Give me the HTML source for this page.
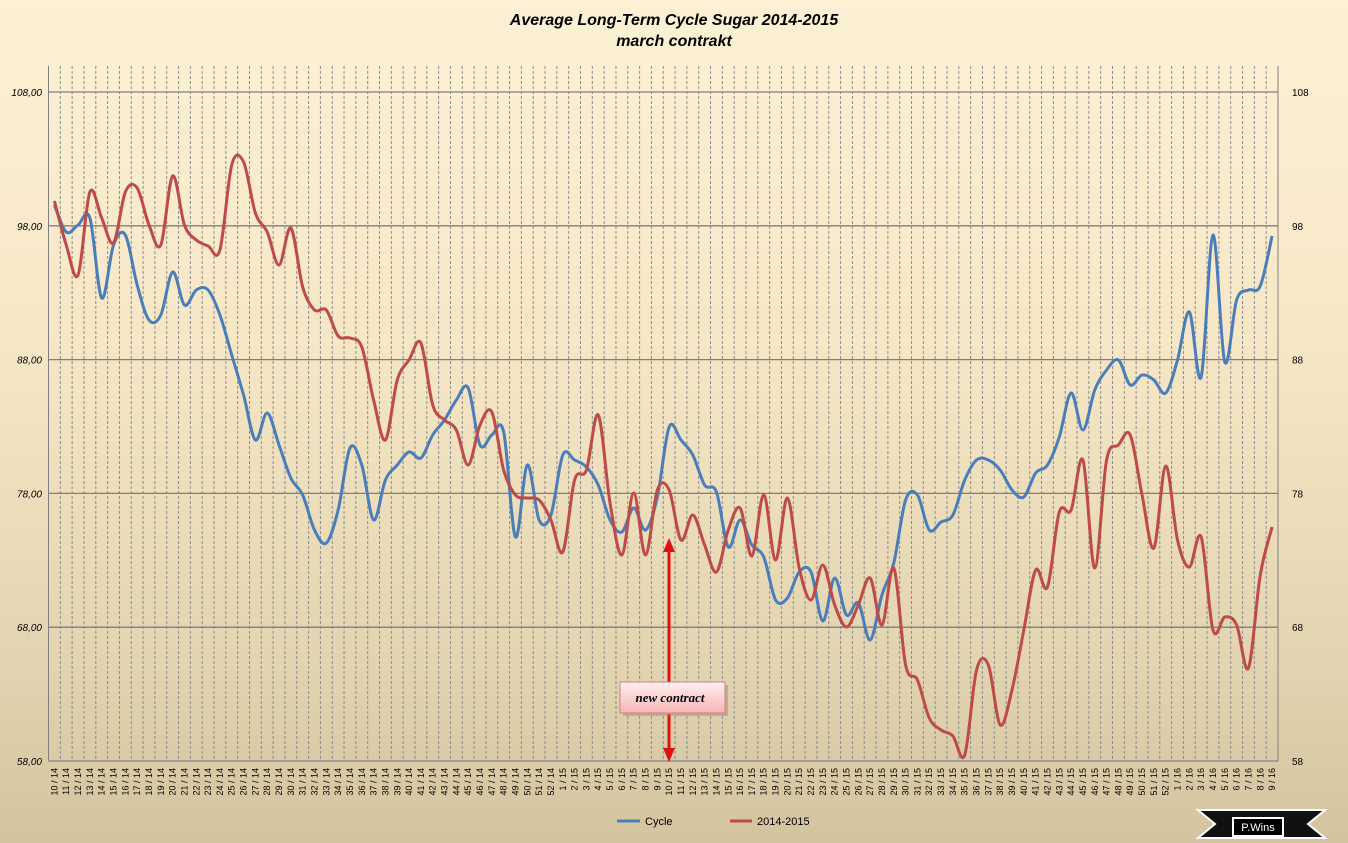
<!DOCTYPE html>
<html><head><meta charset="utf-8"><style>
html,body{margin:0;padding:0;}
body{width:1348px;height:843px;overflow:hidden;background:linear-gradient(#fdf1d5 0%,#f6e7c6 40%,#e2d3b0 80%,#d3c39f 100%);font-family:"Liberation Sans",sans-serif;}
</style></head><body>
<svg id="s" width="1348" height="843" xmlns="http://www.w3.org/2000/svg" style="position:absolute;left:0;top:0">
<text x="674" y="25" text-anchor="middle" font-family="Liberation Sans" font-size="16" font-weight="bold" font-style="italic">Average Long-Term Cycle Sugar 2014-2015</text>
<text x="674" y="46" text-anchor="middle" font-family="Liberation Sans" font-size="16" font-weight="bold" font-style="italic">march contrakt</text>
<g id="grid"></g>
<g id="lines"></g>
<g id="ann">
<line x1="669" y1="548" x2="669" y2="682" stroke="#e01010" stroke-width="3"/>
<polygon points="669,538 663,552 675,552" fill="#e01010"/>
<line x1="669" y1="714" x2="669" y2="752" stroke="#e01010" stroke-width="3"/>
<polygon points="669,762 663,748 675,748" fill="#e01010"/>
<defs><linearGradient id="bx" x1="0" y1="0" x2="0" y2="1"><stop offset="0" stop-color="#fff0f0"/><stop offset="1" stop-color="#f7b5b5"/></linearGradient></defs>
<rect x="623" y="685" width="105" height="31" fill="#a08a7a" opacity="0.5"/>
<rect x="620" y="682" width="105" height="31" fill="url(#bx)" stroke="#d08080"/>
<text x="670" y="702" text-anchor="middle" font-family="Liberation Serif" font-size="13" font-weight="bold" font-style="italic">new contract</text>
</g>
<g>
<line x1="617" y1="821" x2="640" y2="821" stroke="#4a7ebb" stroke-width="3"/>
<text x="645" y="825" font-size="11">Cycle</text>
<line x1="730" y1="821" x2="752" y2="821" stroke="#be4b48" stroke-width="3"/>
<text x="757" y="825" font-size="11">2014-2015</text>
</g>
<g>
<polygon points="1198,810 1325,810 1308,824 1325,838 1198,838 1215,824" fill="#111" stroke="#fff" stroke-width="2"/>
<rect x="1233" y="818" width="50" height="18" fill="#000" stroke="#fff" stroke-width="2"/>
<text x="1258" y="831" text-anchor="middle" fill="#fff" font-size="11">P.Wins</text>
</g>
</svg>
<script>
const NS="http://www.w3.org/2000/svg";
const L=48.5,R=1278,T=92,B=761,W=(R-L)/104;
const g=document.getElementById('grid');
function el(t,a,p,txt){const e=document.createElementNS(NS,t);for(const k in a)e.setAttribute(k,a[k]);if(txt!=null)e.textContent=txt;p.appendChild(e);return e;}
const labels=[];
for(let w=10;w<=52;w++)labels.push(w+" / 14");
for(let w=1;w<=52;w++)labels.push(w+" / 15");
for(let w=1;w<=9;w++)labels.push(w+" / 16");
for(let i=0;i<=104;i++){const x=L+i*W;el('line',{x1:x,y1:66,x2:x,y2:B,stroke:'#8c8c8c','stroke-dasharray':'3,2','stroke-width':1},g);}
[108,98,88,78,68,58].forEach(v=>{const y=T+(108-v)*(B-T)/50;
el('line',{x1:L,y1:y,x2:R,y2:y,stroke:'#808080','stroke-width':1.3},g);
el('text',{x:42,y:y+4,'text-anchor':'end','font-size':10,'font-style':'italic'},g,v.toFixed(2).replace('.',','));
el('text',{x:1292,y:y+4,'font-size':10},g,String(v));});
el('line',{x1:L,y1:66,x2:L,y2:B,stroke:'#808080'},g);
el('line',{x1:R,y1:66,x2:R,y2:B,stroke:'#808080'},g);
labels.forEach((t,i)=>{const x=L+(i+0.5)*W+3;el('text',{x:0,y:0,transform:`translate(${x},768) rotate(-90)`,'text-anchor':'end','font-size':9},g,t);});
const red=[201,245,275,192,218,243,192,188,225,245,176,225,240,246,250,165,162,213,232,265,228,287,310,310,336,338,347,400,440,380,360,343,405,420,430,465,425,412,470,495,498,500,520,552,480,470,415,503,555,493,555,490,490,540,515,545,572,530,508,556,495,560,498,568,600,565,605,627,605,578,625,568,665,680,718,730,736,755,670,665,725,690,630,570,587,512,510,460,568,460,445,435,495,548,466,540,567,537,630,617,625,668,575,527];
const blue=[205,232,225,218,298,245,235,285,320,315,272,305,290,290,315,355,395,440,413,445,478,495,530,543,510,448,465,520,480,465,452,458,435,420,400,388,445,435,432,537,465,520,515,455,460,467,485,520,532,508,530,497,427,440,455,485,492,547,520,545,557,600,598,572,572,621,578,615,603,640,595,563,500,495,530,522,515,480,460,460,470,490,497,473,465,437,393,430,390,370,360,385,375,380,393,360,312,377,235,362,300,290,286,236];
function path(ys){const p=ys.map((y,i)=>[L+(i+0.5)*W,y]);let d=`M${p[0][0]},${p[0][1]}`;
for(let i=0;i<p.length-1;i++){const p0=p[i-1]||p[i],p1=p[i],p2=p[i+1],p3=p[i+2]||p2;const k=1/6;
d+=` C${p1[0]+(p2[0]-p0[0])*k},${p1[1]+(p2[1]-p0[1])*k} ${p2[0]-(p3[0]-p1[0])*k},${p2[1]-(p3[1]-p1[1])*k} ${p2[0]},${p2[1]}`;}return d;}
const ln=document.getElementById('lines');
el('path',{d:path(blue),fill:'none',stroke:'#4a7ebb','stroke-width':3},ln);
el('path',{d:path(red),fill:'none',stroke:'#be4b48','stroke-width':3},ln);
</script>
</body></html>
